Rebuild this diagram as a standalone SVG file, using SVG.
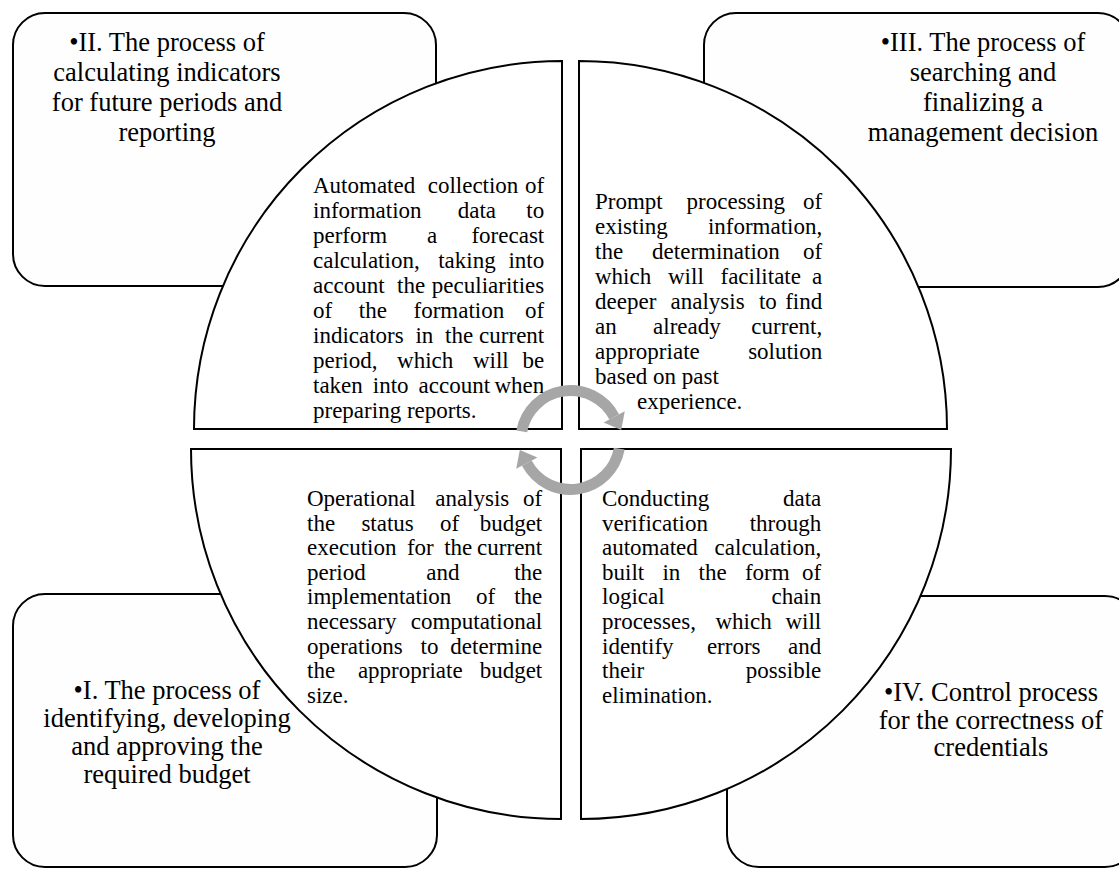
<svg xmlns="http://www.w3.org/2000/svg" width="1119" height="869" viewBox="0 0 1119 869">
<style>
.box{fill:#fefefe;stroke:#000;stroke-width:2}
.quad{fill:#fff;stroke:#000;stroke-width:2}
text{font-family:"Liberation Serif","DejaVu Serif","Noto Serif",serif;fill:#000}
.ct{font-size:26.5px;text-anchor:middle}
.bt{font-size:23px}
.e{text-anchor:end}
.arc{fill:none;stroke:#a6a6a6;stroke-width:11}
.ah{fill:#a6a6a6}
</style>
<g id="box-II"><rect class="box" x="13" y="13" width="423" height="273" rx="32"/>
<text class="ct" font-family="Liberation Serif, serif"><tspan x="167" y="51">•II. The process of</tspan><tspan x="167" y="81">calculating indicators</tspan><tspan x="167" y="111">for future periods and</tspan><tspan x="167" y="141">reporting</tspan></text></g>
<g id="box-III"><rect class="box" x="704" y="13" width="426" height="274" rx="32"/>
<text class="ct" font-family="Liberation Serif, serif"><tspan x="983" y="51">•III. The process of</tspan><tspan x="983" y="81">searching and</tspan><tspan x="983" y="111">finalizing a</tspan><tspan x="983" y="141">management decision</tspan></text></g>
<g id="box-I"><rect class="box" x="13" y="594" width="424" height="273" rx="32"/>
<text class="ct" font-family="Liberation Serif, serif"><tspan x="167" y="699">•I. The process of</tspan><tspan x="167" y="727">identifying, developing</tspan><tspan x="167" y="755">and approving the</tspan><tspan x="167" y="783">required budget</tspan></text></g>
<g id="box-IV"><rect class="box" x="727" y="596" width="410" height="271" rx="32"/>
<text class="ct" font-family="Liberation Serif, serif"><tspan x="991" y="701">•IV. Control process</tspan><tspan x="991" y="728.5">for the correctness of</tspan><tspan x="991" y="756">credentials</tspan></text></g>
<g id="quad-TL"><path class="quad" d="M562 429 L562 61 A368 368 0 0 0 194 429 Z"/>
<text class="bt" font-family="Liberation Serif, serif">
<tspan x="313" y="193">Automated</tspan><tspan x="427.7" y="193">collection</tspan><tspan class="e" x="550" y="193">of</tspan>
<tspan x="313" y="218">information</tspan><tspan x="457.7" y="218">data</tspan><tspan class="e" x="550" y="218">to</tspan>
<tspan x="313" y="243">perform</tspan><tspan x="427" y="243">a</tspan><tspan class="e" x="550" y="243">forecast</tspan>
<tspan x="313" y="268">calculation,</tspan><tspan x="438.2" y="268">taking</tspan><tspan class="e" x="550" y="268">into</tspan>
<tspan x="313" y="293">account</tspan><tspan x="397" y="293">the</tspan><tspan class="e" x="550" y="293">peculiarities</tspan>
<tspan x="313" y="318">of</tspan><tspan x="358.8" y="318">the</tspan><tspan x="413.5" y="318">formation</tspan><tspan class="e" x="550" y="318">of</tspan>
<tspan x="313" y="343">indicators</tspan><tspan x="415.4" y="343">in</tspan><tspan x="445" y="343">the</tspan><tspan class="e" x="550" y="343">current</tspan>
<tspan x="313" y="368">period,</tspan><tspan x="397.1" y="368">which</tspan><tspan x="472.9" y="368">will</tspan><tspan class="e" x="550" y="368">be</tspan>
<tspan x="313" y="393">taken</tspan><tspan x="372.8" y="393">into</tspan><tspan x="418.6" y="393">account</tspan><tspan class="e" x="550" y="393">when</tspan>
<tspan x="313" y="418">preparing reports.</tspan>
</text></g>
<g id="quad-TR"><path class="quad" d="M579 429 L579 61 A368 368 0 0 1 947 429 Z"/>
<text class="bt" font-family="Liberation Serif, serif">
<tspan x="595" y="209">Prompt</tspan><tspan x="686.6" y="209">processing</tspan><tspan class="e" x="828" y="209">of</tspan>
<tspan x="595" y="234">existing</tspan><tspan class="e" x="828" y="234">information,</tspan>
<tspan x="595" y="259">the</tspan><tspan x="652.1" y="259">determination</tspan><tspan class="e" x="828" y="259">of</tspan>
<tspan x="595" y="284">which</tspan><tspan x="668" y="284">will</tspan><tspan x="720.5" y="284">facilitate</tspan><tspan class="e" x="828" y="284">a</tspan>
<tspan x="595" y="309">deeper</tspan><tspan x="670.5" y="309">analysis</tspan><tspan x="758.9" y="309">to</tspan><tspan class="e" x="828" y="309">find</tspan>
<tspan x="595" y="334">an</tspan><tspan x="653.1" y="334">already</tspan><tspan class="e" x="828" y="334">current,</tspan>
<tspan x="595" y="359">appropriate</tspan><tspan class="e" x="828" y="359">solution</tspan>
<tspan x="595" y="384">based on past</tspan>
<tspan x="637" y="409">experience.</tspan>
</text></g>
<g id="quad-BL"><path class="quad" d="M561 449 L191 449 A370 370 0 0 0 561 819 Z"/>
<text class="bt" font-family="Liberation Serif, serif">
<tspan x="307" y="506">Operational</tspan><tspan x="435.2" y="506">analysis</tspan><tspan class="e" x="548" y="506">of</tspan>
<tspan x="307" y="530.6">the</tspan><tspan x="361.4" y="530.6">status</tspan><tspan x="440" y="530.6">of</tspan><tspan class="e" x="548" y="530.6">budget</tspan>
<tspan x="307" y="555.2">execution</tspan><tspan x="406.9" y="555.2">for</tspan><tspan x="444.2" y="555.2">the</tspan><tspan class="e" x="548" y="555.2">current</tspan>
<tspan x="307" y="579.8">period</tspan><tspan x="426.2" y="579.8">and</tspan><tspan class="e" x="548" y="579.8">the</tspan>
<tspan x="307" y="604.4">implementation</tspan><tspan x="476.1" y="604.4">of</tspan><tspan class="e" x="548" y="604.4">the</tspan>
<tspan x="307" y="629">necessary</tspan><tspan class="e" x="548" y="629">computational</tspan>
<tspan x="307" y="653.6">operations</tspan><tspan x="420.5" y="653.6">to</tspan><tspan class="e" x="548" y="653.6">determine</tspan>
<tspan x="307" y="678.2">the</tspan><tspan x="357.9" y="678.2">appropriate</tspan><tspan class="e" x="548" y="678.2">budget</tspan>
<tspan x="307" y="702.8">size.</tspan>
</text></g>
<g id="quad-BR"><path class="quad" d="M581 449 L951 449 A370 370 0 0 1 581 819 Z"/>
<text class="bt" font-family="Liberation Serif, serif">
<tspan x="602" y="506">Conducting</tspan><tspan class="e" x="827" y="506">data</tspan>
<tspan x="602" y="530.6">verification</tspan><tspan class="e" x="827" y="530.6">through</tspan>
<tspan x="602" y="555.2">automated</tspan><tspan class="e" x="827" y="555.2">calculation,</tspan>
<tspan x="602" y="579.8">built</tspan><tspan x="662.4" y="579.8">in</tspan><tspan x="698.6" y="579.8">the</tspan><tspan x="744.9" y="579.8">form</tspan><tspan class="e" x="827" y="579.8">of</tspan>
<tspan x="602" y="604.4">logical</tspan><tspan class="e" x="827" y="604.4">chain</tspan>
<tspan x="602" y="629">processes,</tspan><tspan x="715.5" y="629">which</tspan><tspan class="e" x="827" y="629">will</tspan>
<tspan x="602" y="653.6">identify</tspan><tspan x="706.9" y="653.6">errors</tspan><tspan class="e" x="827" y="653.6">and</tspan>
<tspan x="602" y="678.2">their</tspan><tspan class="e" x="827" y="678.2">possible</tspan>
<tspan x="602" y="702.8">elimination.</tspan>
</text></g>
<g id="connectors">
<path class="arc" d="M521.75 431.4 A49.5 49.5 0 0 1 614.2 416.8"/>
<polygon class="ah" points="621.2,430 624.8,411.2 603.6,422.4"/>
<path class="arc" d="M619.25 448.6 A49.5 49.5 0 0 1 526.8 463.2"/>
<polygon class="ah" points="519.8,450 516.2,468.8 537.4,457.6"/>
</g>
</svg>
